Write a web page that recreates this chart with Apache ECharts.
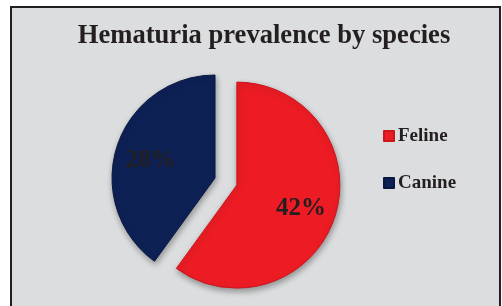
<!DOCTYPE html>
<html>
<head>
<meta charset="utf-8">
<script src="https://cdn.jsdelivr.net/npm/echarts@6/dist/echarts.min.js"></script>
<style>
  html, body { margin: 0; padding: 0; background: #fff; }
  .frame { position: absolute; left: 10px; top: 6px; width: 487px; height: 320px; border: 2px solid #231f20; background: #dcdddf; }
  #chart { position: absolute; left: 0; top: 0; width: 502px; height: 306px; }
</style>
</head>
<body>
<div class="frame"></div>
<div id="chart"></div>
<script>
const categories = ['Feline', 'Canine']
const values = [42, 28]
const titleText = 'Hematuria prevalence by species'

const pieCenter = [215, 178]
const pieRadius = 103

const sliceColors = ['#ed1c24', '#0e2155']
const sliceEdges = ['#c8161d', '#081842']

const chart = echarts.init(document.getElementById('chart'))
chart.setOption({
  animation: false,
  backgroundColor: 'transparent',
  title: {
    text: titleText,
    left: 264,
    textAlign: 'center',
    top: 23,
    padding: 0,
    textStyle: {
      fontFamily: 'Liberation Serif',
      fontWeight: 'bold',
      fontSize: 26.6,
      color: '#231f20'
    }
  },
  legend: {
    orient: 'vertical',
    left: 383,
    top: 126,
    padding: 0,
    itemWidth: 10,
    itemHeight: 10,
    itemGap: 27,
    icon: 'rect',
    selectedMode: false,
    data: categories,
    textStyle: {
      fontFamily: 'Liberation Serif',
      fontWeight: 'bold',
      fontSize: 19,
      lineHeight: 20,
      color: '#231f20',
      padding: [0, 0, 0, -1]
    }
  },
  series: [{
    type: 'pie',
    center: pieCenter,
    radius: pieRadius,
    startAngle: 90,
    clockwise: true,
    selectedMode: 'single',
    selectedOffset: 23,
    emphasis: { disabled: true },
    label: {
      show: true,
      position: 'inside',
      formatter: '{c}%',
      fontFamily: 'Liberation Serif',
      fontWeight: 'bold',
      fontSize: 25,
      color: '#231f20'
    },
    labelLayout: function (p) {
      // push labels a little further out from the centre
      const lx = p.labelRect.x + p.labelRect.width / 2
      const ly = p.labelRect.y + p.labelRect.height / 2
      const dx = lx - pieCenter[0], dy = ly - pieCenter[1]
      const d = Math.sqrt(dx * dx + dy * dy) || 1
      return { dx: dx / d * 13, dy: dy / d * 13 + 3 }
    },
    itemStyle: {
      borderWidth: 1,
      shadowBlur: 6,
      shadowColor: 'rgba(0,0,0,0.35)',
      shadowOffsetX: 1,
      shadowOffsetY: 3
    },
    data: categories.map((name, i) => ({
      name: name,
      value: values[i],
      selected: i === 0,
      itemStyle: { color: sliceColors[i], borderColor: sliceEdges[i] }
    }))
  }]
})
</script>
</body>
</html>
